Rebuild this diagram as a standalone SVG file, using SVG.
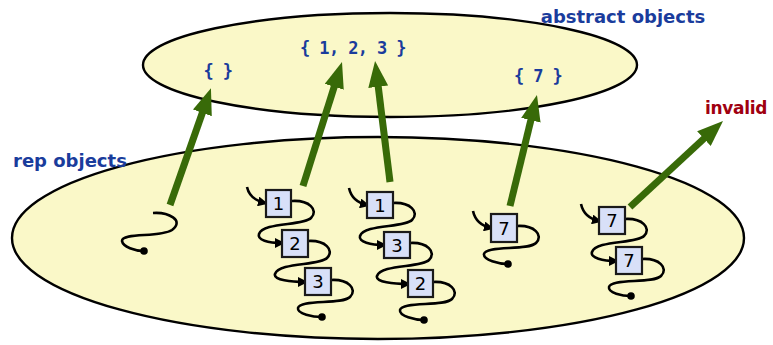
<svg xmlns="http://www.w3.org/2000/svg" width="773" height="345" viewBox="0 0 773 345">
  <style>
    .set { fill: #FAF8C8; stroke: #000; stroke-width: 2.4; }
    .label { font-family: "DejaVu Sans", sans-serif; font-weight: bold; font-size: 18px; fill: #1A3C9C; }
    .val { font-family: "DejaVu Sans Mono", monospace; font-weight: bold; font-size: 17px; letter-spacing: -0.6px; fill: #1A3C9C; text-anchor: middle; }
    .bad { font-family: "DejaVu Sans", sans-serif; font-weight: bold; font-size: 17px; letter-spacing: -0.3px; fill: #A00010; text-anchor: middle; }
    .link { fill: none; stroke: #000; stroke-width: 2.6; }
    .ptr { fill: none; stroke: #000; stroke-width: 2.6; marker-end: url(#tip); }
    .box { fill: #D8E0F8; stroke: #1a1a1a; stroke-width: 2.2; }
    .num { font-family: "DejaVu Sans", sans-serif; font-size: 18px; fill: #000; text-anchor: middle; }
    .af { fill: none; stroke: #386A08; stroke-width: 7; marker-end: url(#big); }
  </style>
  <defs>
    <marker id="tip" viewBox="0 0 10 10" markerWidth="10" markerHeight="10" refX="7" refY="5" orient="auto" markerUnits="userSpaceOnUse">
      <path d="M0 0 L10 5 L0 10 z" fill="#000"/>
    </marker>
    <marker id="big" viewBox="0 0 26 20" markerWidth="26" markerHeight="20" refX="2" refY="10" orient="auto" markerUnits="userSpaceOnUse">
      <path d="M0 0 L26 10 L0 20 z" fill="#386A08"/>
    </marker>
  </defs>

  <!-- the two sets -->
  <g id="abstract-set">
    <ellipse class="set" cx="390" cy="65" rx="247" ry="52"/>
    <text class="label" x="623" y="23" text-anchor="middle">abstract objects</text>
    <text class="val" x="218" y="77">{ }</text>
    <text class="val" x="353" y="54">{ 1, 2, 3 }</text>
    <text class="val" x="538" y="82">{ 7 }</text>
  </g>
  <g id="rep-set">
    <ellipse class="set" cx="378" cy="238" rx="366" ry="101"/>
    <text class="label" x="13" y="167">rep objects</text>
  </g>

  <!-- empty list -->
  <g id="rep-empty">
    <path class="link" d="M153 213 C168 212,185 220,172 230 C160 238,122 232,122 241 C123 247,135 251,144 251"/>
    <circle cx="144" cy="251" r="3.8"/>
  </g>

  <!-- list 1,2,3 -->
  <g id="rep-123">
    <path class="ptr" d="M247 187 C249 196,256 201,265 203"/>
    <path class="ptr" d="M292 201 C309 200,319 210,311 218 C303 226,263 222,259 234 C257 240,268 243,282 243"/>
    <path class="ptr" d="M308 241 C325 240,335 250,327 258 C319 266,279 262,275 274 C273 280,292 282,305 282"/>
    <path class="link" d="M331 280 C348 279,358 289,350 297 C342 305,300 299,298 308 C297 314,313 317,322 317"/>
    <circle cx="322" cy="317" r="3.8"/>
    <rect class="box" x="266" y="190" width="25" height="27"/>
    <text class="num" x="278.5" y="210">1</text>
    <rect class="box" x="282" y="230" width="26" height="27"/>
    <text class="num" x="295" y="250">2</text>
    <rect class="box" x="305" y="268" width="26" height="27"/>
    <text class="num" x="318" y="288">3</text>
  </g>

  <!-- list 1,3,2 -->
  <g id="rep-132">
    <path class="ptr" d="M349 188 C351 197,358 203,367 205"/>
    <path class="ptr" d="M393 203 C410 202,420 212,412 220 C404 228,364 224,360 236 C358 242,371 245,384 245"/>
    <path class="ptr" d="M410 243 C427 242,437 252,429 260 C421 268,381 264,377 276 C375 282,394 284,408 284"/>
    <path class="link" d="M433 282 C450 281,460 291,452 299 C444 307,402 301,400 310 C399 316,415 320,424 320"/>
    <circle cx="424" cy="320" r="3.8"/>
    <rect class="box" x="367" y="192" width="26" height="26"/>
    <text class="num" x="380" y="212">1</text>
    <rect class="box" x="384" y="232" width="26" height="26"/>
    <text class="num" x="397" y="252">3</text>
    <rect class="box" x="408" y="270" width="25" height="27"/>
    <text class="num" x="420.5" y="290">2</text>
  </g>

  <!-- list 7 -->
  <g id="rep-7">
    <path class="ptr" d="M473 211 C475 220,482 226,491 228"/>
    <path class="link" d="M517 226 C534 225,544 235,536 243 C528 251,486 245,484 254 C483 260,499 264,508 264"/>
    <circle cx="508" cy="264" r="3.8"/>
    <rect class="box" x="491" y="214" width="26" height="28"/>
    <text class="num" x="504" y="235">7</text>
  </g>

  <!-- list 7,7 -->
  <g id="rep-77">
    <path class="ptr" d="M581 204 C583 213,590 219,599 221"/>
    <path class="ptr" d="M625 219 C642 218,652 228,644 236 C636 244,596 240,592 252 C590 258,603 261,616 261"/>
    <path class="link" d="M642 259 C659 258,669 268,661 276 C653 284,611 278,609 287 C608 293,622 296,631 296"/>
    <circle cx="631" cy="296" r="3.8"/>
    <rect class="box" x="599" y="207" width="26" height="27"/>
    <text class="num" x="612" y="227">7</text>
    <rect class="box" x="616" y="247" width="26" height="27"/>
    <text class="num" x="629" y="267">7</text>
  </g>

  <g id="invalid">
    <text class="bad" x="736" y="114">invalid</text>
  </g>

  <!-- abstraction function arrows -->
  <g id="connectors">
    <path class="af" d="M170 205 L203 111"/>
    <path class="af" d="M303 186 L334.8 84.9"/>
    <path class="af" d="M390 182 L378 84.8"/>
    <path class="af" d="M510 206 L531.3 118.3"/>
    <path class="af" d="M630 207 L705.4 137.3"/>
  </g>
</svg>
